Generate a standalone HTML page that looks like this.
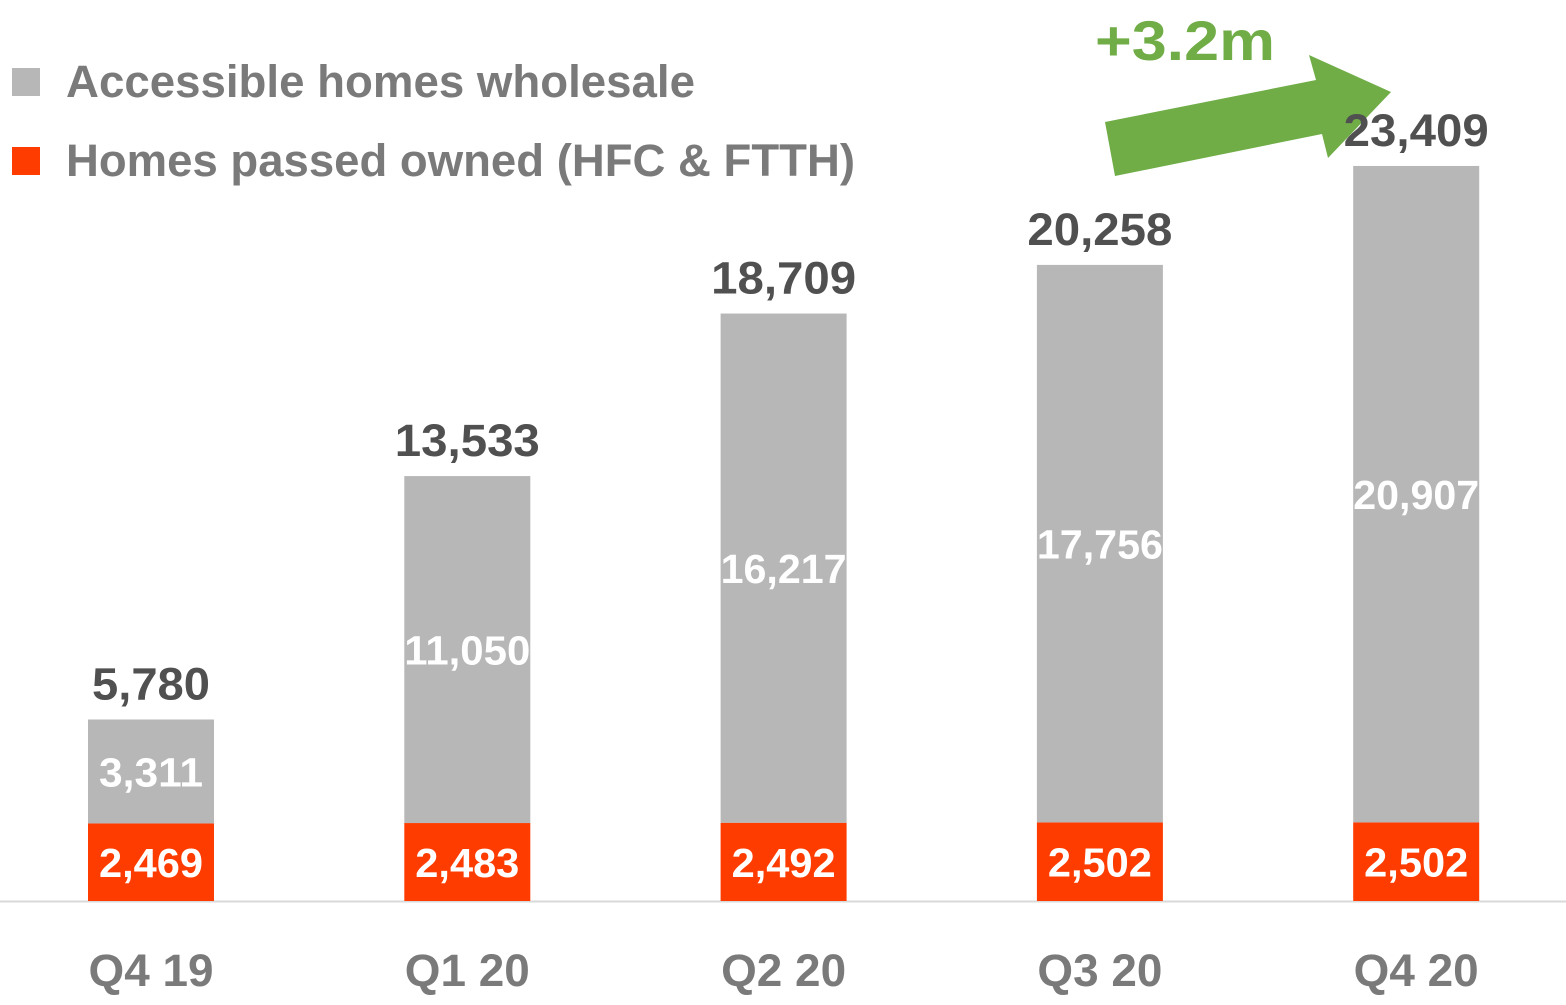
<!DOCTYPE html>
<html><head><meta charset="utf-8"><style>
html,body{margin:0;padding:0;background:#fff;}
body{width:1566px;height:1000px;overflow:hidden;font-family:"Liberation Sans",sans-serif;}
</style></head><body>
<svg id="chart" width="1566" height="1000" xmlns="http://www.w3.org/2000/svg" font-family="Liberation Sans, sans-serif" font-weight="bold">
  <g>
    <rect x="12" y="68" width="28" height="28" fill="#b7b7b7"/>
    <text x="66" y="97" font-size="45" fill="#7a7a7a" textLength="629" lengthAdjust="spacingAndGlyphs">Accessible homes  wholesale</text>
    <rect x="12" y="147" width="28" height="28" fill="#ff3c00"/>
    <text x="66" y="176" font-size="45" fill="#7a7a7a" textLength="789" lengthAdjust="spacingAndGlyphs">Homes passed  owned (HFC &amp; FTTH)</text>
  </g>
  <g>
    <polygon points="1105,122 1316,80 1309,55 1391,92 1328,158 1322,134 1115,176" fill="#70ad47"/>
    <text x="1095" y="60" font-size="56" fill="#70ad47" textLength="180" lengthAdjust="spacingAndGlyphs">+3.2m</text>
  </g>
  <line x1="0" y1="901.5" x2="1566" y2="901.5" stroke="#d9d9d9" stroke-width="2"/>
  <g id="bars"></g>
</svg>
<script>
const categories = ["Q4 19","Q1 20","Q2 20","Q3 20","Q4 20"];
const ownedValues = [2469,2483,2492,2502,2502];
const wholesaleValues = [3311,11050,16217,17756,20907];
const totalValues = [5780,13533,18709,20258,23409];

const baseY = 901, scale = 0.0314, firstX = 88, step = 316.3, barW = 126;
const yLen = v => v * scale;
const xPos = i => firstX + i * step;
const fmt = v => v.toLocaleString('en-US');
const NS = "http://www.w3.org/2000/svg";
const g = document.getElementById('bars');
function mk(tag, attrs, text){
  const e = document.createElementNS(NS, tag);
  for (const k in attrs) e.setAttribute(k, attrs[k]);
  if (text !== undefined) e.textContent = text;
  g.appendChild(e); return e;
}
categories.forEach((c, i) => {
  const x = xPos(i), cx = x + barW/2;
  const hO = yLen(ownedValues[i]), hW = yLen(wholesaleValues[i]);
  const yO = baseY - hO, yW = yO - hW;
  const r1 = mk('rect', {x, y: yO, width: barW, height: hO, fill: '#ff3c00'});
  
  
  const r2 = mk('rect', {x, y: yW, width: barW, height: hW, fill: '#b7b7b7'});
  
  
  const t1 = mk('text', {x: cx, y: yO + hO/2 + 15, 'font-size': 41, fill: '#fff', 'text-anchor': 'middle', textLength: 104, lengthAdjust: 'spacingAndGlyphs'}, fmt(ownedValues[i]));
  
  
  const wl = fmt(wholesaleValues[i]).length > 5 ? 126 : 104;
  const t2 = mk('text', {x: cx, y: yW + hW/2 + 15, 'font-size': 41, fill: '#fff', 'text-anchor': 'middle', textLength: wl, lengthAdjust: 'spacingAndGlyphs'}, fmt(wholesaleValues[i]));
  
  
  const tl = fmt(totalValues[i]).length > 5 ? 145 : 118;
  const t3 = mk('text', {x: cx, y: yW - 20, 'font-size': 45, fill: '#505050', 'text-anchor': 'middle', textLength: tl, lengthAdjust: 'spacingAndGlyphs'}, fmt(totalValues[i]));
  
  
  const t4 = mk('text', {x: cx, y: 986, 'font-size': 45, fill: '#7a7a7a', 'text-anchor': 'middle', textLength: 125, lengthAdjust: 'spacingAndGlyphs'}, c);
  
  
});
</script>
</body></html>
